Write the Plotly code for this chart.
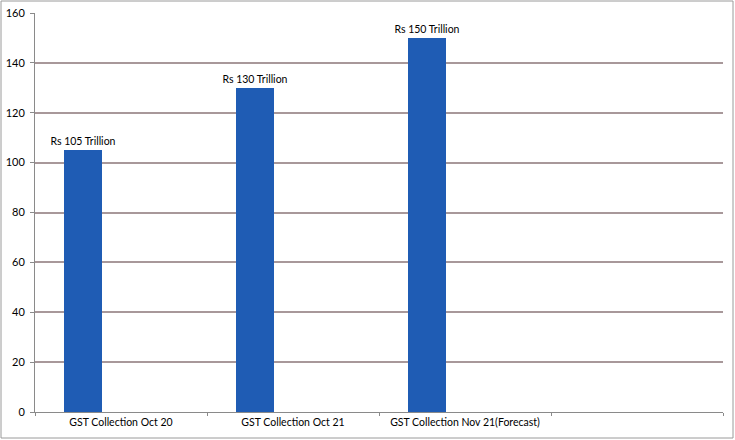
import plotly.graph_objects as go

categories = ["GST Collection Oct 20", "GST Collection Oct 21", "GST Collection Nov 21(Forecast)", " "]
values = [105, 130, 150, None]
labels = ["Rs 105 Trillion", "Rs 130 Trillion", "Rs 150 Trillion", ""]
y_ticks = [0, 20, 40, 60, 80, 100, 120, 140, 160]

W, H = 735, 440
ML, MR, MT, MB = 35, 12, 13, 28
FONT = "Lato, Open Sans, sans-serif"

fig = go.Figure()
fig.add_trace(go.Bar(
    x=categories, y=values,
    marker=dict(color="#1f5cb4", line=dict(width=0)),
    width=0.222, offset=-0.333,
    text=labels, textposition="outside", constraintext="none",
    textfont=dict(family=FONT, size=10.5, color="#000000"),
    cliponaxis=False,
))

pw = W - ML - MR
ph = H - MT - MB
fig.add_shape(type="rect", xref="paper", yref="paper",
              x0=(1 - ML) / pw, x1=(W - 2 - ML) / pw,
              y0=-(H - 2 - MT - ph) / ph, y1=1 + (MT - 1) / ph,
              line=dict(color="#9a9a9a", width=1), layer="below")

fig.update_layout(
    width=W, height=H,
    margin=dict(l=ML, r=MR, t=MT, b=MB, pad=0, autoexpand=False),
    paper_bgcolor="white", plot_bgcolor="white",
    showlegend=False,
    font=dict(family=FONT, size=10.5, color="#000000"),
    xaxis=dict(
        type="category", showgrid=False, showline=True, linecolor="#8a8a8a", linewidth=1,
        ticks="outside", tickson="boundaries", ticklen=3, tickcolor="#8a8a8a",
        tickfont=dict(size=10.5), range=[-0.5, 3.5], automargin=False,
    ),
    yaxis=dict(
        range=[0, 160], tickvals=y_ticks, showgrid=True, gridcolor="#a8989a", gridwidth=1.5,
        showline=True, linecolor="#8a8a8a", linewidth=1, zeroline=False,
        ticks="outside", ticklen=4, tickcolor="#8a8a8a", tickfont=dict(size=11),
        ticklabelstandoff=3, automargin=False,
    ),
    bargap=0,
)

fig.write_html("out.html", config={"displayModeBar": False},
               post_script="document.body.style.margin='0';document.body.style.padding='0';")
